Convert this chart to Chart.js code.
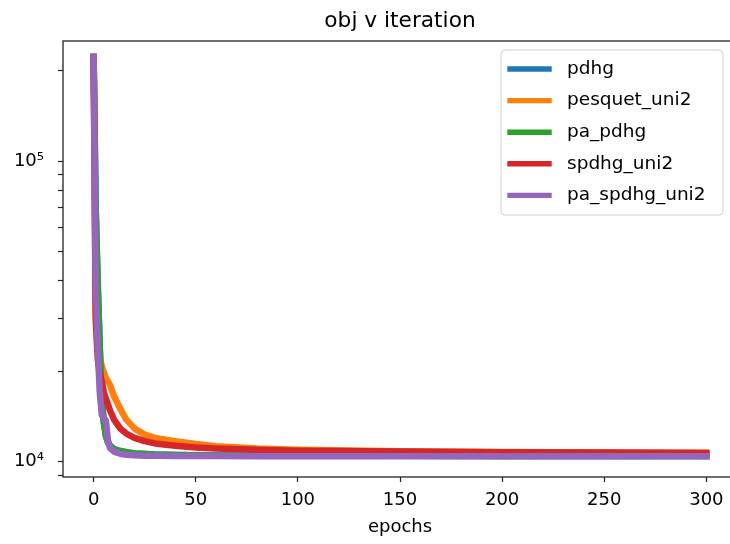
<!DOCTYPE html>
<html>
<head>
<meta charset="utf-8">
<script src="https://cdn.jsdelivr.net/npm/chart.js@4"></script>
<style>
  html, body { margin: 0; padding: 0; background: #fff; overflow: hidden; }
  canvas { display: block; }
</style>
</head>
<body>
<canvas id="mychart" width="745" height="544"></canvas>
<script>
const epochs = [0, 1, 2, 3, 4, 5, 6, 7, 8, 10, 13, 16, 20, 25, 30, 40, 50, 60, 80, 100, 150, 200, 250, 300];

// pdhg sits under pa_pdhg, it is never visible in the picture
const pdhg = [222000, 70000, 39000, 24000, 16000, 13500, 12200, 11600, 11300, 11000, 10850, 10750, 10650, 10600, 10560, 10520, 10500, 10490, 10480, 10470, 10460, 10450, 10450, 10440];
const pesquetUni2 = [222000, 32000, 25000, 22000, 20800, 19800, 19000, 18500, 18000, 16500, 15000, 13800, 12900, 12300, 12000, 11700, 11450, 11250, 11050, 10950, 10830, 10770, 10730, 10700];
const paPdhg = [222000, 70000, 39000, 24000, 16000, 13500, 12200, 11600, 11300, 11000, 10850, 10750, 10650, 10600, 10560, 10520, 10500, 10490, 10480, 10470, 10460, 10450, 10450, 10440];
const spdhgUni2 = [222000, 30000, 22000, 19500, 18500, 17000, 16200, 15500, 14800, 13800, 12900, 12400, 12000, 11700, 11500, 11300, 11150, 11050, 10950, 10880, 10800, 10750, 10720, 10690];
const paSpdhgUni2 = [222000, 40000, 24000, 17000, 14300, 14000, 13700, 11800, 11100, 10800, 10620, 10540, 10500, 10470, 10460, 10450, 10440, 10440, 10430, 10430, 10420, 10420, 10420, 10420];

const labels = ['pdhg', 'pesquet_uni2', 'pa_pdhg', 'spdhg_uni2', 'pa_spdhg_uni2'];
const colors = ['#1f77b4', '#ff7f0e', '#2ca02c', '#d62728', '#9467bd'];
const series = [pdhg, pesquetUni2, paPdhg, spdhgUni2, paSpdhgUni2];

const xTicks = [0, 50, 100, 150, 200, 250, 300];
const yTicks = [9000, 10000, 20000, 30000, 40000, 50000, 60000, 70000, 80000, 90000, 100000, 200000];
const yLabels = { 10000: '10\u2074', 100000: '10\u2075' };

const FONT = '"DejaVu Sans", sans-serif';

const frame = {
    id: 'frame',
    afterDraw(chart) {
        const ctx = chart.ctx;
        const a = chart.chartArea;
        ctx.save();
        ctx.strokeStyle = '#222';
        ctx.lineWidth = 1.3;
        ctx.strokeRect(a.left, a.top, a.right - a.left, a.bottom - a.top);

        ctx.fillStyle = '#000';
        ctx.font = '21.7px ' + FONT;
        ctx.textAlign = 'center';
        ctx.textBaseline = 'alphabetic';
        ctx.fillText('obj v iteration', (a.left + a.right) / 2, 27);

        // legend box, matplotlib style
        const bx = 501, by = 50, bw = 222, bh = 165, r = 4;
        ctx.beginPath();
        ctx.moveTo(bx + r, by);
        ctx.arcTo(bx + bw, by, bx + bw, by + bh, r);
        ctx.arcTo(bx + bw, by + bh, bx, by + bh, r);
        ctx.arcTo(bx, by + bh, bx, by, r);
        ctx.arcTo(bx, by, bx + bw, by, r);
        ctx.closePath();
        ctx.fillStyle = 'rgba(255,255,255,0.8)';
        ctx.fill();
        ctx.strokeStyle = '#d0d0d0';
        ctx.lineWidth = 1;
        ctx.stroke();

        chart.data.datasets.forEach((ds, i) => {
            const y = 69 + i * 31.6;
            ctx.beginPath();
            ctx.strokeStyle = ds.borderColor;
            ctx.lineWidth = 5.4;
            ctx.lineCap = 'square';
            ctx.moveTo(510, y);
            ctx.lineTo(549, y);
            ctx.stroke();
            ctx.fillStyle = '#000';
            ctx.font = '18.5px ' + FONT;
            ctx.textAlign = 'left';
            ctx.textBaseline = 'middle';
            ctx.fillText(ds.label, 567, y);
        });
        ctx.restore();
    }
};

// first series at the bottom, last one on top (as matplotlib plots them)
const datasets = series.map((vals, i) => ({
    label: labels[i],
    data: epochs.map((e, j) => ({ x: e, y: vals[j] })),
    order: series.length - i,
    borderColor: colors[i],
    backgroundColor: colors[i],
    borderWidth: 6.5,
    borderCapStyle: 'square',
    borderJoinStyle: 'round',
    pointRadius: 0,
    tension: 0,
    fill: false
}));

const ctx = document.getElementById('mychart').getContext('2d');
let myChart = new Chart(ctx, {
    type: 'line',
    data: { datasets: datasets },
    options: {
        responsive: false,
        animation: false,
        devicePixelRatio: 1,
        layout: { padding: { top: 41, right: 8, left: 0, bottom: 0 } },
        plugins: {
            legend: { display: false },
            title: { display: false },
            tooltip: { enabled: false }
        },
        scales: {
            x: {
                type: 'linear',
                min: -15,
                max: 315,
                afterBuildTicks: s => { s.ticks = xTicks.map(v => ({ value: v })); },
                afterFit: s => { s.height = 67; },
                border: { display: false },
                grid: { drawOnChartArea: false, tickLength: 5, tickColor: '#222', tickWidth: 1.2 },
                ticks: { color: '#000', padding: 8, maxRotation: 0, autoSkip: false, font: { family: FONT, size: 18 } },
                title: { display: true, text: 'epochs', color: '#000', font: { family: FONT, size: 18 }, padding: { top: 2, bottom: 6 } }
            },
            y: {
                type: 'logarithmic',
                min: 8890,
                max: 251000,
                afterBuildTicks: s => { s.ticks = yTicks.map(v => ({ value: v })); },
                afterFit: s => { s.width = 63; },
                border: { display: false },
                grid: { drawOnChartArea: false, tickLength: 5, tickColor: '#222', tickWidth: 1.2 },
                ticks: {
                    color: '#000',
                    padding: 14,
                    autoSkip: false,
                    font: { family: FONT, size: 18 },
                    callback: v => yLabels[v] || ''
                }
            }
        }
    },
    plugins: [frame]
});
</script>
</body>
</html>
